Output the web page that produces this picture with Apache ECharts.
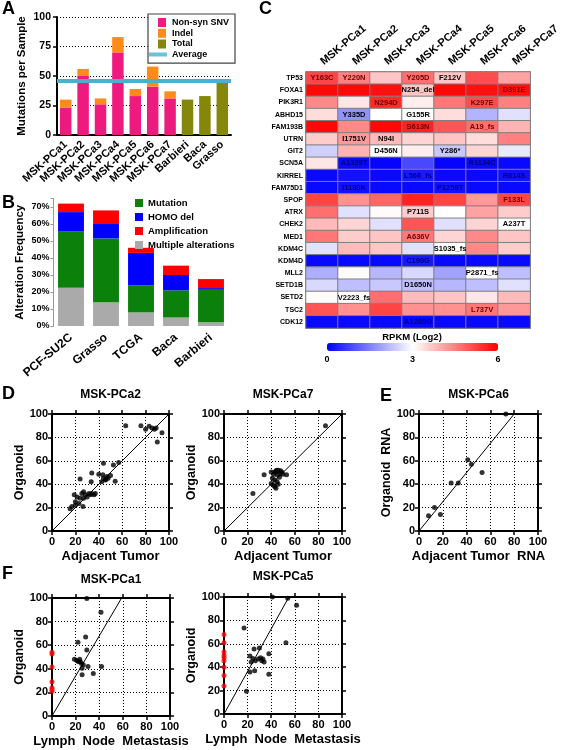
<!DOCTYPE html>
<html><head><meta charset="utf-8">
<script src="https://cdn.jsdelivr.net/npm/echarts@6/dist/echarts.min.js"></script>
<style>html,body{margin:0;padding:0;background:#fff}#c{width:562px;height:750px}</style>
</head><body><div id="c"></div>
<script>
// ---------------- Panel A : mutations per sample ----------------
const mutSamples = ['MSK-PCa1','MSK-PCa2','MSK-PCa3','MSK-PCa4','MSK-PCa5','MSK-PCa6','MSK-PCa7','Barbieri','Baca','Grasso'];
const nonSynSNV = [23, 50, 26, 70, 33, 41, 31, '-', '-', '-'];
const indel     = [7, 6, 5, 13, 6, 17, 6, '-', '-', '-'];
const totalMut  = ['-', '-', '-', '-', '-', '-', '-', 30, 33, 46];
const avgMutations = 46;
const mutTicks = [0, 25, 50, 75, 100];

// ---------------- Panel B : alteration frequency ----------------
const cohorts = ['PCF-SU2C','Grasso','TCGA','Baca','Barbieri'];
const multipleAlt   = [22.5, 14, 8, 5, 2.2];
const mutationFreq  = [33, 37.5, 16, 16, 19.1];
const homoDel       = [11.5, 8.5, 19, 9, 1];
const amplification = [5, 8, 3, 5.5, 5.3];
const freqTicks = [0, 10, 20, 30, 40, 50, 60, 70];

// ---------------- Panel C : RPKM heatmap ----------------
const heatSamples = ['MSK-PCa1','MSK-PCa2','MSK-PCa3','MSK-PCa4','MSK-PCa5','MSK-PCa6','MSK-PCa7'];
const genes = ['TP53','FOXA1','PIK3R1','ABHD15','FAM193B','UTRN','GIT2','SCN5A','KIRREL','FAM75D1','SPOP','ATRX','CHEK2','MED1','KDM4C','KDM4D','MLL2','SETD1B','SETD2','TSC2','CDK12'];
const rpkm = [
  [5.2, 4.5, 3.7, 4.7, 3.7, 5.1, 4.1],
  [5.9, 5.9, 5.8, 3.7, 5.9, 5.8, 5.8],
  [4.4, 3.3, 5.5, 3.2, 4.6, 5.1, 4.5],
  [3.4, 1.7, 3.0, 3.0, 3.4, 2.1, 2.65],
  [5.9, 4.4, 5.9, 5.6, 5.0, 4.7, 3.9],
  [3.6, 4.2, 3.8, 3.5, 3.7, 3.4, 4.5],
  [2.45, 3.9, 3.0, 3.2, 2.35, 3.5, 2.75],
  [3.3, 0.1, 0.05, 0.85, 0.05, 0.1, 0.1],
  [0.1, 0.2, 0.1, 0.3, 0.1, 0.1, 0.2],
  [0.1, 0.2, 0.1, 0.1, 0.2, 0.1, 0.1],
  [5.2, 4.3, 4.8, 5.6, 5.2, 4.2, 5.2],
  [4.7, 2.65, 3.05, 3.6, 3.0, 4.1, 3.6],
  [3.8, 3.5, 2.65, 5.0, 2.65, 3.5, 3.0],
  [4.6, 3.6, 3.7, 4.6, 3.5, 4.4, 3.7],
  [2.65, 3.8, 3.7, 2.65, 3.0, 4.4, 3.6],
  [0.1, 0.1, 0.1, 0.3, 0.1, 0.1, 0.1],
  [2.05, 3.05, 2.15, 2.55, 1.9, 3.0, 2.25],
  [2.55, 2.25, 2.35, 2.25, 2.15, 2.25, 2.65],
  [3.05, 3.0, 4.7, 3.8, 3.7, 3.3, 3.8],
  [5.0, 4.3, 5.2, 4.3, 4.3, 4.6, 4.2],
  [0.1, 0.1, 0.1, 0.1, 0.1, 0.1, 0.1]
];
const mutLabels = [
  ['Y163C','Y220N','','Y205D','F212V','',''],
  ['','','','N254_del','','','D391E'],
  ['','','N294D','','','K297E',''],
  ['','Y335D','','G155R','','',''],
  ['','','','S613N','','A19_fs',''],
  ['','I1751V','N94I','','','',''],
  ['','','D456N','','Y286*','',''],
  ['','A1329T','','','','R1134C',''],
  ['','','','L566_fs','','','R614S'],
  ['','I1180K','','','P1259T','',''],
  ['','','','','','','F133L'],
  ['','','','P711S','','',''],
  ['','','','','','','A237T'],
  ['','','','A636V','','',''],
  ['','','','','S1035_fs','',''],
  ['','','','C190G','','',''],
  ['','','','','','P2871_fs',''],
  ['','','','D1650N','','',''],
  ['','V2223_fs','','','','',''],
  ['','','','','','L737V',''],
  ['','','','A1280G','','','']
];
const rpkmTicks = [0, 3, 6];

// ---------------- Panels D/E/F : scatter (VAF %) ----------------
const pctTicks = [0, 20, 40, 60, 80, 100];
const pca2Adjacent = [[63,90],[76,90],[80,87],[83,89.5],[85.5,88],[87.5,87],[89,88],[94,84],[90,76],
  [24,44.5],[34,49.5],[33.5,42],[44,58],[52.5,56.5],[57,58.5],[40,48.5],[43.5,48],[44,45],[45.5,43.5],[47,46.5],[50,47.5],[54,42.5],[42.5,42],[46,44],[48,45],
  [19,31],[21.5,29],[24,28],[25.5,32],[27,33.5],[28.5,31],[30,29],[31.5,32],[33,31],[34,32],[36,31],[37,32],[27,28],[20,25],[23,23.5],[17,21],[20,22],[26.5,21],[15.5,19]];
const pca2Fit = [[0,0],[100,100]];
const pca7Adjacent = [[86,90],[24.5,32],[34,48],[40,50.5],[42,48.5],[43,50.5],[44.5,52],[46,52],[47.5,49],[50,48.5],[53,48],[41,45],[43,43.5],[45,42],[42,39],[43,38],[46,40],[44,36.5],[40,40.5],[47,46],[45,48],[49,50.5],[44,51],[48,51.5]];
const pca7Fit = [[0,0],[100,100]];
const pca6Rna = [[73,100],[41,61],[44,57],[53,50],[27,41],[33,41],[13,20],[8,13],[18,14]];
const pca6Fit = [[0,0],[80,100]];
const pca1Lymph = [[29.5,99.5],[41.5,88],[28.5,67],[22,62.5],[29.5,56],[19,48],[21,47],[22.5,46],[23.5,48],[25,44.5],[25.5,40.5],[30.5,42],[42,42],[25.5,35],[35,36],[24,46],[26.5,43.5]];
const pca1OrganoidOnly = [54, 52.5, 41.5, 29, 24, 22.5, 21];
const pca1Fit = [[0,0],[59,100]];
const pca5Lymph = [[41,100],[54,99],[61.5,93],[17,73.5],[52.5,61],[38,51.5],[22,49.5],[30,56.5],[25.5,55.5],[24.5,47.5],[26.5,45.5],[29,47],[23,44.5],[31,48],[33,47],[32,45.5],[34,44.5],[38,34],[22,36],[26,37],[19,19.5]];
const pca5OrganoidOnly = [68, 61, 53, 50, 48, 45.5, 40, 33, 24];
const pca5Fit = [[0,0],[55,100]];

// ================= build chart =================
const F = "'Liberation Sans', Arial, Helvetica, sans-serif";
const B = {fontFamily: F, fontWeight: 'bold', color: '#000'};
const PINK = '#EE1A7E', ORANGE = '#FF8C1A', OLIVE = '#84870A', AVG = '#4AB0CE';
const GREEN = '#0B800B', BLUE = '#0000FF', RED = '#FF0000', GRAY = '#AAAAAA';
const DOT = [1, 2];

const grid = [], xAxis = [], yAxis = [], series = [], title = [];

[['A',2,0],['B',2,194],['C',259,0],['D',2,385],['E',380,387],['F',2,565]].forEach(([t,l,tp]) => {
  title.push({text: t, left: l, top: tp, padding: 0, textStyle: Object.assign({fontSize: 18}, B)});
});

// ---- Panel A
grid.push({left: 57, top: 17, width: 174, height: 118});
xAxis.push({gridIndex: 0, type: 'category', data: mutSamples,
  axisLine: {lineStyle: {color: '#000', width: 2}}, axisTick: {show: false},
  axisLabel: Object.assign({interval: 0, rotate: 42, margin: 8, fontSize: 11}, B)});
yAxis.push({gridIndex: 0, type: 'value', min: mutTicks[0], max: mutTicks[mutTicks.length-1], interval: mutTicks[1]-mutTicks[0],
  name: 'Mutations per Sample', nameLocation: 'middle', nameGap: 29, nameTextStyle: Object.assign({fontSize: 11.5}, B),
  axisLine: {show: true, lineStyle: {color: '#000', width: 2}},
  axisTick: {show: true, length: 4, lineStyle: {color: '#000', width: 1.5}},
  axisLabel: Object.assign({fontSize: 10.5, margin: 6}, B),
  splitLine: {show: true, lineStyle: {type: DOT, color: '#000', width: 1}}});
[['Non-syn SNV', nonSynSNV, PINK], ['Indel', indel, ORANGE], ['Total', totalMut, OLIVE]].forEach(([n, d, c]) => {
  series.push({name: n, type: 'bar', xAxisIndex: 0, yAxisIndex: 0, stack: 'mut', data: d, barWidth: '66%', itemStyle: {color: c}, silent: true});
});
series.push({name: 'Average', type: 'scatter', xAxisIndex: 0, yAxisIndex: 0, data: [], itemStyle: {color: AVG},
  markLine: {silent: true, symbol: 'none', z: 5, label: {show: false}, lineStyle: {color: AVG, width: 4, type: 'solid'},
    data: [{yAxis: avgMutations}]}});

// ---- Panel B
grid.push({left: 53.5, top: 198.5, width: 175, height: 127.5});
xAxis.push({gridIndex: 1, type: 'category', data: cohorts, axisLine: {show: false}, axisTick: {show: false},
  axisLabel: Object.assign({interval: 0, rotate: 40, margin: 10, fontSize: 12}, B)});
yAxis.push({gridIndex: 1, type: 'value', min: 0, max: 75, interval: freqTicks[1]-freqTicks[0],
  name: 'Alteration Frequency', nameLocation: 'middle', nameGap: 28, nameTextStyle: Object.assign({fontSize: 11.5}, B),
  axisLine: {show: true, lineStyle: {color: '#999', width: 1}},
  axisTick: {show: true, length: 3, lineStyle: {color: '#999'}},
  axisLabel: Object.assign({fontSize: 9, margin: 4, formatter: v => (freqTicks.indexOf(v) >= 0 ? v + '%' : '')}, B),
  splitLine: {show: false}});
[['Multiple alterations', multipleAlt, GRAY], ['Mutation', mutationFreq, GREEN], ['HOMO del', homoDel, BLUE], ['Amplification', amplification, RED]].forEach(([n, d, c]) => {
  series.push({name: n, type: 'bar', xAxisIndex: 1, yAxisIndex: 1, stack: 'alt', data: d, barWidth: '74%', itemStyle: {color: c}, silent: true});
});

// ---- Panel C heatmap
grid.push({left: 306, top: 72, width: 232, height: 256, show: true, borderColor: '#7a7a7a', borderWidth: 1.5, backgroundColor: 'transparent'});
xAxis.push({gridIndex: 2, type: 'category', data: heatSamples, position: 'top', axisLine: {show: false}, axisTick: {show: false}, splitLine: {show: false},
  axisLabel: Object.assign({interval: 0, rotate: -40, margin: 9, fontSize: 11}, B)});
yAxis.push({gridIndex: 2, type: 'category', data: genes, inverse: true, axisLine: {show: false}, axisTick: {show: false}, splitLine: {show: false},
  axisLabel: Object.assign({interval: 0, fontSize: 7, margin: 3}, B)});
function cellTextColor(v) { return v > 4.2 ? '#6b0000' : (v < 1.2 ? '#000080' : '#000'); }
const heatData = [];
genes.forEach((g, r) => heatSamples.forEach((s, c) => {
  const v = rpkm[r][c], txt = mutLabels[r][c];
  heatData.push({value: [c, r, v], label: {show: !!txt, formatter: txt || '', color: cellTextColor(v)}});
}));
const heatIndex = series.length;
series.push({type: 'heatmap', xAxisIndex: 2, yAxisIndex: 2, data: heatData, silent: true,
  itemStyle: {borderColor: '#808080', borderWidth: 1},
  label: {fontSize: 7.5, fontWeight: 'bold', fontFamily: F}, emphasis: {disabled: true}});

// color-bar tick axis
grid.push({left: 327, top: 343, width: 171, height: 8});
xAxis.push({gridIndex: 3, type: 'value', min: rpkmTicks[0], max: rpkmTicks[rpkmTicks.length-1], interval: rpkmTicks[1]-rpkmTicks[0],
  axisLine: {show: false}, axisTick: {show: false}, splitLine: {show: false},
  axisLabel: Object.assign({fontSize: 9, margin: 4}, B)});
yAxis.push({gridIndex: 3, type: 'value', show: false});
title.push({text: 'RPKM (Log2)', left: 412, top: 332, textAlign: 'center', padding: 0, textStyle: Object.assign({fontSize: 9.5}, B)});

// ---- Scatter panels
const scatterPanels = [
  {title: 'MSK-PCa2', pts: pca2Adjacent, red: null, fit: pca2Fit, xName: 'Adjacent Tumor', yName: 'Organoid', box: [52, 414, 117, 117], tTop: 389},
  {title: 'MSK-PCa7', pts: pca7Adjacent, red: null, fit: pca7Fit, xName: 'Adjacent Tumor', yName: 'Organoid', box: [224, 414, 118, 117], tTop: 389},
  {title: 'MSK-PCa6', pts: pca6Rna, red: null, fit: pca6Fit, xName: 'Adjacent Tumor  RNA', yName: 'Organoid  RNA', box: [419, 414, 119, 117], tTop: 389},
  {title: 'MSK-PCa1', pts: pca1Lymph, red: pca1OrganoidOnly, fit: pca1Fit, xName: 'Lymph  Node  Metastasis', yName: 'Organoid', box: [52, 598, 118, 118], tTop: 574},
  {title: 'MSK-PCa5', pts: pca5Lymph, red: pca5OrganoidOnly, fit: pca5Fit, xName: 'Lymph  Node  Metastasis', yName: 'Organoid', box: [224, 597, 118, 117], tTop: 571}
];
const axLine = {show: true, onZero: false, lineStyle: {color: '#000', width: 2}};
const axTick = {show: true, length: 4, lineStyle: {color: '#000', width: 1.5}};
const pctRange = {type: 'value', min: pctTicks[0], max: pctTicks[pctTicks.length-1], interval: pctTicks[1]-pctTicks[0]};
scatterPanels.forEach((p) => {
  const gi = grid.length;
  grid.push({left: p.box[0], top: p.box[1], width: p.box[2], height: p.box[3]});
  const xi = xAxis.length, yi = yAxis.length;
  xAxis.push(Object.assign({gridIndex: gi, position: 'bottom', name: p.xName, nameLocation: 'middle', nameGap: 19,
    nameTextStyle: Object.assign({fontSize: 13}, B), axisLine: axLine, axisTick: axTick,
    axisLabel: Object.assign({fontSize: 11, margin: 5}, B),
    splitLine: {show: true, lineStyle: {type: DOT, color: '#000', width: 1}}}, pctRange));
  xAxis.push(Object.assign({gridIndex: gi, position: 'top', axisLine: axLine, axisTick: axTick, axisLabel: {show: false}, splitLine: {show: false}}, pctRange));
  yAxis.push(Object.assign({gridIndex: gi, position: 'left', name: p.yName, nameLocation: 'middle', nameGap: 26,
    nameTextStyle: Object.assign({fontSize: 12.5}, B), axisLine: axLine, axisTick: axTick,
    axisLabel: Object.assign({fontSize: 11, margin: 4}, B),
    splitLine: {show: true, lineStyle: {type: DOT, color: '#000', width: 1}}}, pctRange));
  yAxis.push(Object.assign({gridIndex: gi, position: 'right', axisLine: axLine, axisTick: axTick, axisLabel: {show: false}, splitLine: {show: false}}, pctRange));
  series.push({type: 'line', xAxisIndex: xi, yAxisIndex: yi, data: p.fit, symbol: 'none', silent: true, z: 3,
    lineStyle: {color: '#000', width: 1}});
  series.push({type: 'scatter', xAxisIndex: xi, yAxisIndex: yi, data: p.pts, symbol: 'circle', symbolSize: 5, silent: true, z: 4,
    itemStyle: {color: '#000'}});
  if (p.red) {
    series.push({type: 'scatter', xAxisIndex: xi, yAxisIndex: yi, data: p.red.map(v => [0, v]), symbol: 'circle', symbolSize: 5,
      clip: false, silent: true, z: 6, itemStyle: {color: '#FF0000'}});
  }
  title.push({text: p.title, left: p.box[0] + p.box[2] / 2, top: p.tTop, textAlign: 'center', padding: 0, textStyle: Object.assign({fontSize: 12}, B)});
});

// legend icons (square / thick line inside an 18x9 box)
const SQ = 'path://M0,0h0.05v0.05h-0.05z M17.95,8.95h0.05v0.05h-0.05z M9,0h8v9h-8z';
const LN = 'path://M0,0h0.05v0.05h-0.05z M17.95,8.95h0.05v0.05h-0.05z M0,2.5h18v4h-18z';

const option = {
  animation: false,
  backgroundColor: '#fff',
  textStyle: {fontFamily: F},
  title: title,
  grid: grid, xAxis: xAxis, yAxis: yAxis, series: series,
  visualMap: [{type: 'continuous', seriesIndex: heatIndex, min: rpkmTicks[0], max: rpkmTicks[rpkmTicks.length-1],
    orient: 'horizontal', left: 327, top: 343, itemWidth: 8, itemHeight: 171, padding: 0,
    calculable: false, hoverLink: false, inRange: {color: ['#0000FF', '#FFFFFF', '#FF0000']}}],
  legend: [
    {data: [{name: 'Non-syn SNV', icon: SQ}, {name: 'Indel', icon: SQ}, {name: 'Total', icon: SQ}, {name: 'Average', icon: LN}],
     orient: 'vertical', left: 148, top: 14, itemWidth: 18, itemHeight: 9, itemGap: 1.7, selectedMode: false,
     padding: [4, 6, 4, 1], backgroundColor: '#fff', borderColor: '#444', borderWidth: 1.2, z: 10,
     textStyle: Object.assign({fontSize: 9}, B)},
    {data: ['Mutation', 'HOMO del', 'Amplification', 'Multiple alterations'],
     orient: 'vertical', left: 135, top: 198, itemWidth: 8, itemHeight: 8, itemGap: 4, icon: 'rect', selectedMode: false,
     padding: 0, textStyle: Object.assign({fontSize: 9.5}, B)}
  ]
};
const chart = echarts.init(document.getElementById('c'), null, {renderer: 'canvas', width: 562, height: 750});
chart.setOption(option);
</script>
</body></html>
